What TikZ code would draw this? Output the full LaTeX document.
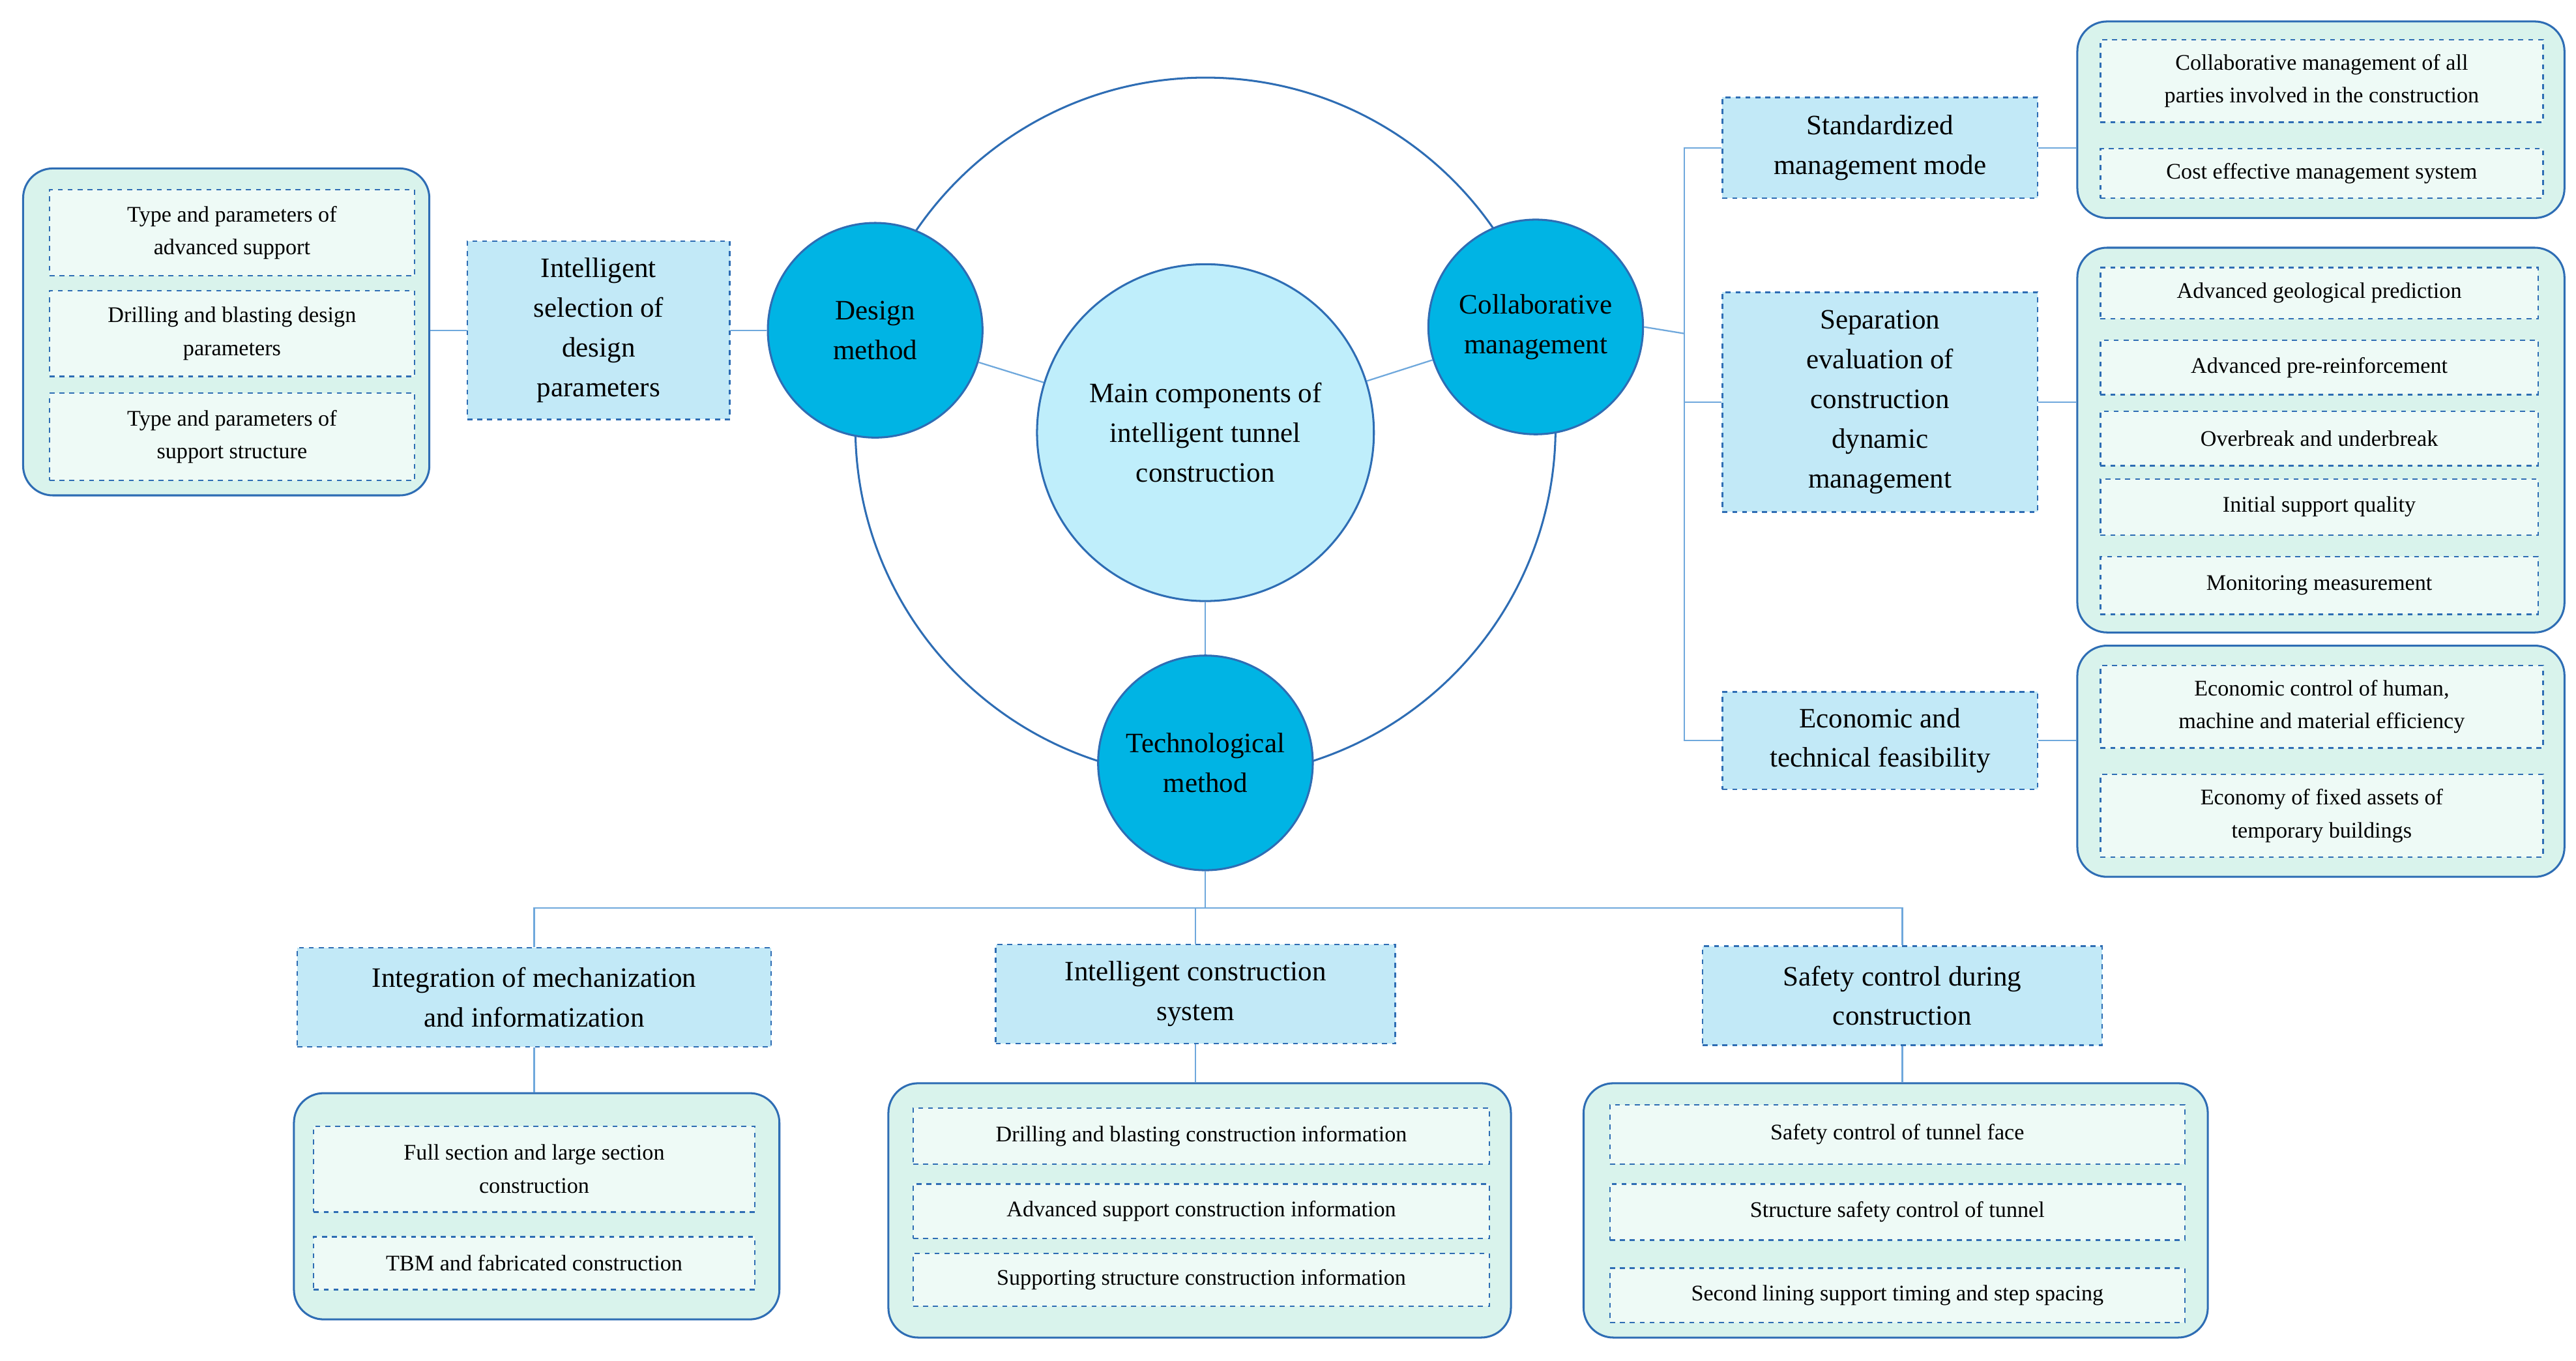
\documentclass[tikz,border=0pt]{standalone}
\usepackage{fontspec}
\setmainfont{Liberation Serif}
\definecolor{dk}{HTML}{00B4E4}
\definecolor{ln}{HTML}{2E6DB4}
\definecolor{lt}{HTML}{BFEEFB}
\definecolor{bx}{HTML}{C2E9F7}
\definecolor{ct}{HTML}{D9F3EC}
\definecolor{it}{HTML}{EEFAF6}
\definecolor{cn}{HTML}{6FA8DC}
\begin{document}
\begin{tikzpicture}[x=1pt,y=-1pt,
  circ/.style={circle,draw=ln,line width=1.2pt,fill=dk,inner sep=0pt,align=center,font=\fontsize{17}{24}\selectfont},
  box/.style={draw=ln,dashed,line width=1pt,fill=bx,align=center,inner sep=0pt,font=\fontsize{17}{24}\selectfont},
  cont/.style={draw=ln,line width=1.2pt,fill=ct,rounded corners=18pt,inner sep=0pt},
  item/.style={draw=ln,dashed,line width=0.9pt,fill=it,align=center,inner sep=0pt,font=\fontsize{13.5}{20}\selectfont},
  con/.style={draw=cn,line width=0.9pt}]
\useasboundingbox (0,0) rectangle (1560,824);
% ring
\draw[ln,line width=1.2pt] (730,259) circle (212);
\node[circ,fill=lt,minimum size=204pt] (m) at (730,262) {Main components of\\intelligent tunnel\\construction};
\node[circ,minimum size=130pt] (d) at (530,200) {Design\\method};
\node[circ,minimum size=130pt] (c) at (930,198) {Collaborative\\management};
\node[circ,minimum size=130pt] (t) at (730,462) {Technological\\method};
\draw[con] (d) -- (m); \draw[con] (c) -- (m); \draw[con] (t) -- (m);
% left
\node[box,minimum width=159pt,minimum height=108pt] (ls) at (362.5,200) {Intelligent\\selection of\\design\\parameters};
\node[cont,minimum width=246pt,minimum height=198pt] (lc) at (137,201) {};
\node[item,minimum width=221pt,minimum height=52pt] (l1) at (140.5,141) {Type and parameters of\\advanced support};
\node[item,minimum width=221pt,minimum height=52pt] (l2) at (140.5,202) {Drilling and blasting design\\parameters};
\node[item,minimum width=221pt,minimum height=53pt] (l3) at (140.5,264.5) {Type and parameters of\\support structure};
\draw[con] (d.west) -- (ls.east);
\draw[con] (ls.west) -- (ls.west -| lc.east);
% right
\node[box,minimum width=191pt,minimum height=61pt] (r1) at (1138.5,89.5) {Standardized\\management mode};
\node[box,minimum width=191pt,minimum height=133pt] (r2) at (1138.5,243.5) {Separation\\evaluation of\\construction\\dynamic\\management};
\node[box,minimum width=191pt,minimum height=59pt] (r3) at (1138.5,448.5) {Economic and\\technical feasibility};
\coordinate (j) at (1020,202);
\draw[con] (c.east) -- (j);
\draw[con] (r1.west) -| (j) |- (r3.west);
\draw[con] (j |- r2.west) -- (r2.west);
\node[cont,minimum width=295pt,minimum height=119pt] (rc1) at (1405.5,72.5) {};
\node[item,minimum width=268pt,minimum height=50pt] at (1406,49) {Collaborative management of all\\parties involved in the construction};
\node[item,minimum width=268pt,minimum height=30pt] at (1406,105) {Cost effective management system};
\node[cont,minimum width=295pt,minimum height=233pt] (rc2) at (1405.5,266.5) {};
\node[item,minimum width=265pt,minimum height=31pt] at (1404.5,177.5) {Advanced geological prediction};
\node[item,minimum width=265pt,minimum height=33pt] at (1404.5,222.5) {Advanced pre-reinforcement};
\node[item,minimum width=265pt,minimum height=33pt] at (1404.5,265.5) {Overbreak and underbreak};
\node[item,minimum width=265pt,minimum height=34pt] at (1404.5,307) {Initial support quality};
\node[item,minimum width=265pt,minimum height=35pt] at (1404.5,354.5) {Monitoring measurement};
\node[cont,minimum width=295pt,minimum height=140pt] (rc3) at (1405.5,461) {};
\node[item,minimum width=268pt,minimum height=50pt] at (1406,428) {Economic control of human,\\machine and material efficiency};
\node[item,minimum width=268pt,minimum height=50pt] at (1406,494) {Economy of fixed assets of\\temporary buildings};
\draw[con] (r1.east) -- (r1.east -| rc1.west);
\draw[con] (r2.east) -- (r2.east -| rc2.west);
\draw[con] (r3.east) -- (r3.east -| rc3.west);
% bottom
\node[box,minimum width=287pt,minimum height=60pt] (ba) at (323.5,604) {Integration of mechanization\\and informatization};
\node[box,minimum width=242pt,minimum height=60pt] (bb) at (724,602) {Intelligent construction\\system};
\node[box,minimum width=242pt,minimum height=60pt] (bc) at (1152,603) {Safety control during\\construction};
\coordinate (tj) at (730,550);
\draw[con] (t.south) -- (tj);
\draw[con] (ba.north) |- (tj) -| (bc.north);
\draw[con] (tj) -- (tj -| bb.north) -- (bb.north);
\node[cont,minimum width=294pt,minimum height=137pt] (ca) at (325,730.5) {};
\node[item,minimum width=267pt,minimum height=52pt] at (323.5,708) {Full section and large section\\construction};
\node[item,minimum width=267pt,minimum height=32pt] at (323.5,765) {TBM and fabricated construction};
\node[cont,minimum width=377pt,minimum height=154pt] (cb) at (726.5,733) {};
\node[item,minimum width=349pt,minimum height=34pt] at (727.5,688) {Drilling and blasting construction information};
\node[item,minimum width=349pt,minimum height=33pt] at (727.5,733.5) {Advanced support construction information};
\node[item,minimum width=349pt,minimum height=32pt] at (727.5,775) {Supporting structure construction information};
\node[cont,minimum width=378pt,minimum height=154pt] (cc) at (1148,733) {};
\node[item,minimum width=348pt,minimum height=36pt] at (1149,687) {Safety control of tunnel face};
\node[item,minimum width=348pt,minimum height=34pt] at (1149,734) {Structure safety control of tunnel};
\node[item,minimum width=348pt,minimum height=33pt] at (1149,784.5) {Second lining support timing and step spacing};
\draw[con] (ba.south) -- (ba.south |- ca.north);
\draw[con] (bb.south) -- (bb.south |- cb.north);
\draw[con] (bc.south) -- (bc.south |- cc.north);
\end{tikzpicture}
\end{document}
